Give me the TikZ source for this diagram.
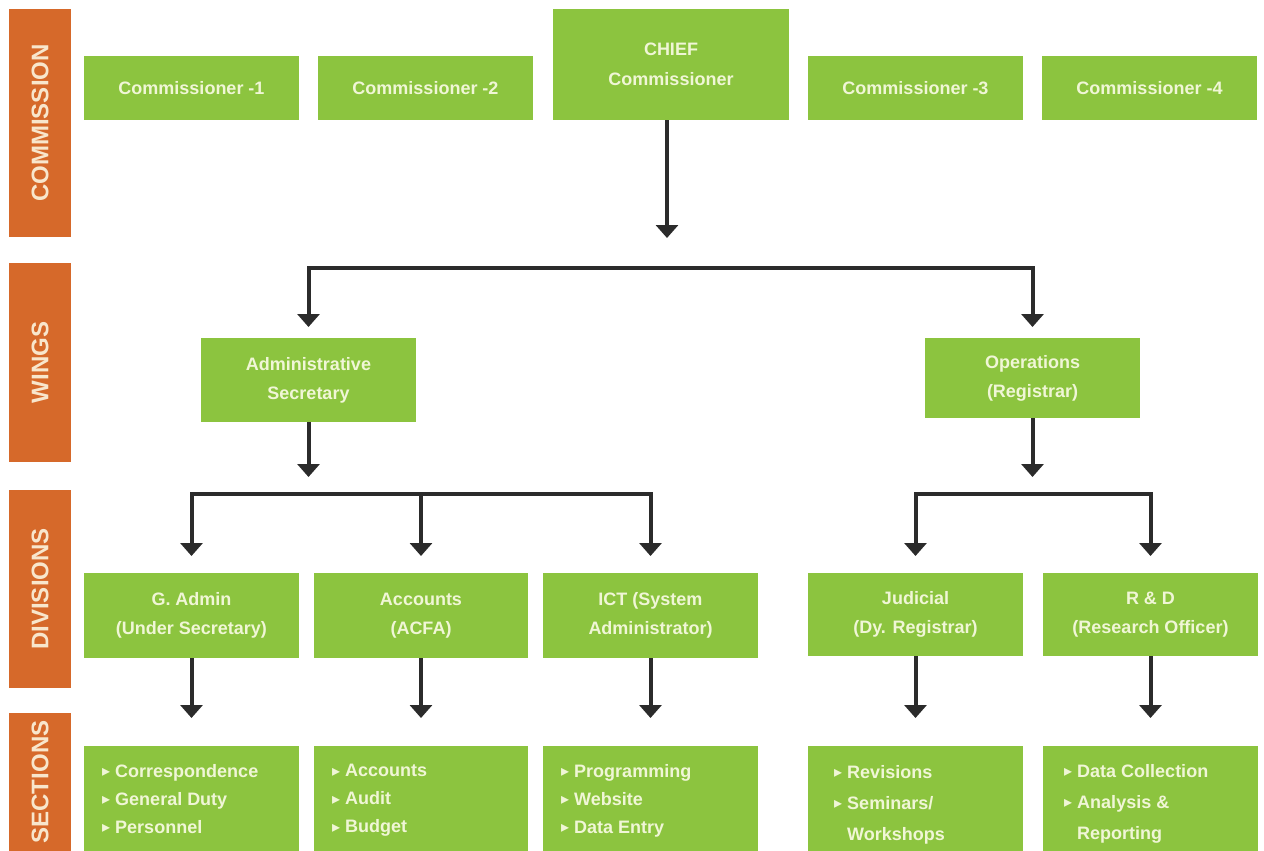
\documentclass[tikz,border=0pt]{standalone}
\usepackage{fontspec}
\setmainfont{Liberation Sans}
\newfontfamily\symfont{DejaVu Sans}
\usetikzlibrary{arrows.meta}
\definecolor{grn}{HTML}{8CC43F}
\definecolor{org}{HTML}{D6692A}
\definecolor{txt}{HTML}{F0F6D6}
\definecolor{otxt}{HTML}{F8E6CC}
\definecolor{arrc}{HTML}{2B2B2B}
\newcommand\secbul{{\symfont\fontsize{16}{16}\selectfont\raisebox{0.5pt}{▸}}}
\begin{document}
\begin{tikzpicture}[x=1pt,y=-1pt,
  box/.style={fill=grn,inner sep=0pt,outer sep=0pt,text=txt,
    font=\bfseries\fontsize{18}{29}\selectfont,align=center,minimum width=215pt},
  secbox/.style={fill=grn,inner sep=0pt,outer sep=0pt,minimum width=215pt,minimum height=105pt},
  sectxt/.style={anchor=north west,inner sep=0pt,text=txt,align=left,
    font=\bfseries\fontsize{18}{28}\selectfont},
  lab/.style={fill=org,rotate=90,minimum height=62pt,inner sep=0pt,outer sep=0pt,text=otxt,
    font=\bfseries\fontsize{24}{24}\selectfont},
  arrowline/.style={draw=arrc,line width=4pt,-{Triangle[width=22pt,length=13pt]}}]
\useasboundingbox (0,0) rectangle (1264,851);
\fill[white] (0,0) rectangle (1264,851);
% side labels
\node[lab,minimum width=228pt] (lcom) at (40,123) {COMMISSION};
\node[lab,minimum width=199pt] (lwing) at (40,362.5) {WINGS};
\node[lab,minimum width=198pt] (ldiv) at (40,589) {DIVISIONS};
\node[lab,minimum width=138pt] (lsec) at (40,782) {SECTIONS};
% commission
\node[box,minimum height=64pt] (c1) at (191.5,88) {Commissioner -1};
\node[box,minimum height=64pt] (c2) at (425.5,88) {Commissioner -2};
\node[box,minimum height=111pt,minimum width=236pt] (chief) at (671,64.5) {CHIEF\\[1pt]Commissioner};
\node[box,minimum height=64pt] (c3) at (915.5,88) {Commissioner -3};
\node[box,minimum height=64pt] (c4) at (1149.5,88) {Commissioner -4};
% wings
\node[box,minimum height=84pt] (admin) at (308.5,380) {Administrative\\Secretary};
\node[box,minimum height=80pt] (ops) at (1032.5,378) {Operations\\(Registrar)};
% divisions
\node[box,minimum height=85pt] (gadm) at (191.5,615.5) {G. Admin\\(Under Secretary)};
\node[box,minimum height=85pt,minimum width=214pt] (acc) at (421,615.5) {Accounts\\(ACFA)};
\node[box,minimum height=85pt] (ict) at (650.5,615.5) {ICT (System\\Administrator)};
\node[box,minimum height=83pt] (jud) at (915.5,614.5) {Judicial\\(Dy. Registrar)};
\node[box,minimum height=83pt] (rnd) at (1150.5,614.5) {R \& D\\(Research Officer)};
% sections
\node[secbox] (sg) at (191.5,798.5) {};
\node[secbox,minimum width=214pt] (sa) at (421,798.5) {};
\node[secbox] (si) at (650.5,798.5) {};
\node[secbox] (sj) at (915.5,798.5) {};
\node[secbox] (sr) at (1150.5,798.5) {};
\node[sectxt] (tg) at ([xshift=18pt,yshift=-18pt]sg.north west) {\secbul\ Correspondence\\\secbul\ General Duty\\\secbul\ Personnel};
\node[sectxt] (ta) at ([xshift=18pt,yshift=-18pt]sa.north west) {\secbul\ Accounts\\\secbul\ Audit\\\secbul\ Budget};
\node[sectxt] (ti) at ([xshift=18pt,yshift=-18pt]si.north west) {\secbul\ Programming\\\secbul\ Website\\\secbul\ Data Entry};
\node[sectxt,font=\bfseries\fontsize{18}{31}\selectfont] (tj) at ([xshift=26pt,yshift=-19pt]sj.north west) {\secbul\ Revisions\\\secbul\ Seminars/\\\phantom{\secbul\ }Workshops};
\node[sectxt,font=\bfseries\fontsize{18}{31}\selectfont] (tr) at ([xshift=21pt,yshift=-18pt]sr.north west) {\secbul\ Data Collection\\\secbul\ Analysis \&\\\phantom{\secbul\ }Reporting};
% connectors
\coordinate (chiefend) at (667,238);
\draw[arrowline] ([xshift=-4pt]chief.south) -- (chiefend);
\coordinate (wbar) at (667,268);
\draw[arrowline,shorten >=11pt] (wbar) -| (admin.north);
\draw[arrowline,shorten >=11pt] (wbar) -| (ops.north);
\coordinate (admend) at (308.5,477);
\draw[arrowline] (admin.south) -- (admend);
\coordinate (opsend) at (1032.5,477);
\draw[arrowline] (ops.south) -- (opsend);
\coordinate (dbarL) at (421,494);
\draw[arrowline,shorten >=17pt] (dbarL) -| (gadm.north);
\draw[arrowline,shorten >=17pt] (dbarL) -| (ict.north);
\draw[arrowline,shorten >=17pt] (dbarL) -- (acc.north);
\coordinate (dbarR) at (1032.5,494);
\draw[arrowline,shorten >=17pt] (dbarR) -| (jud.north);
\draw[arrowline,shorten >=17pt] (dbarR) -| (rnd.north);
\draw[arrowline,shorten >=28pt] (gadm.south) -- (sg.north);
\draw[arrowline,shorten >=28pt] (acc.south) -- (sa.north);
\draw[arrowline,shorten >=28pt] (ict.south) -- (si.north);
\draw[arrowline,shorten >=28pt] (jud.south) -- (sj.north);
\draw[arrowline,shorten >=28pt] (rnd.south) -- (sr.north);
\end{tikzpicture}
\end{document}
